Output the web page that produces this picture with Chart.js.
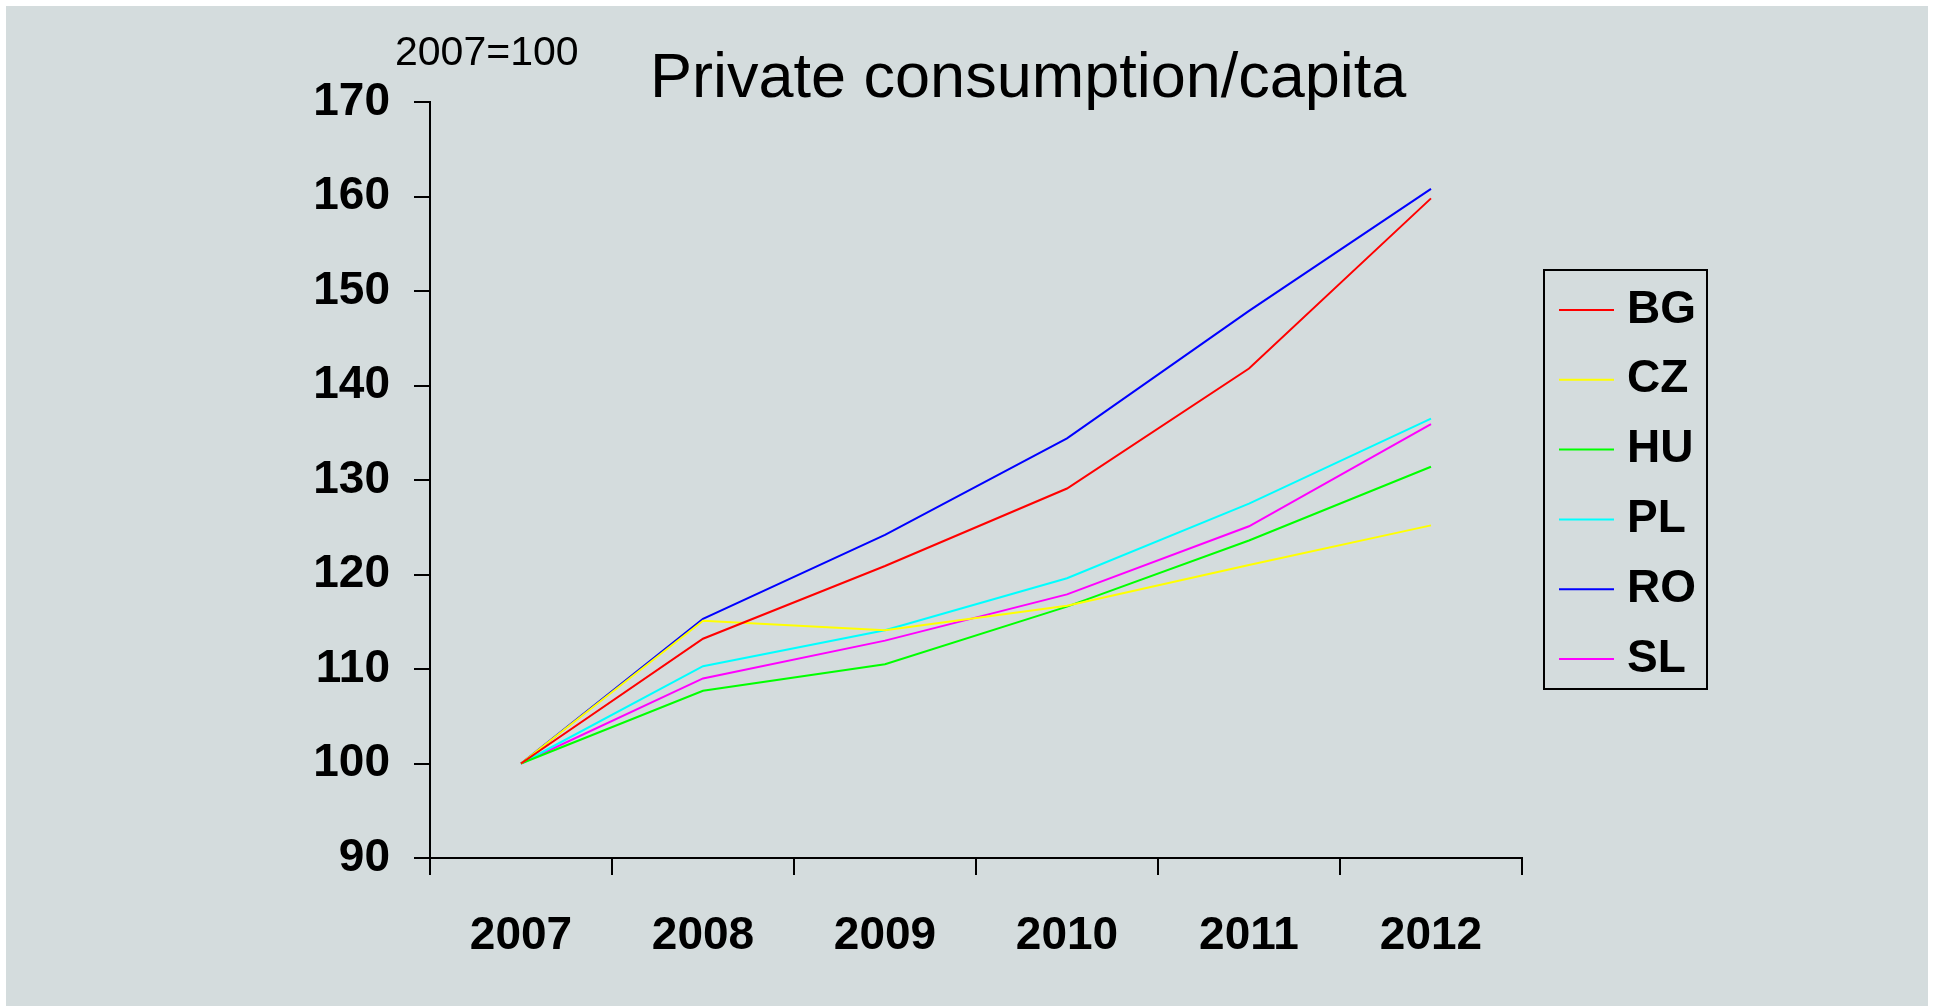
<!DOCTYPE html>
<html>
<head>
<meta charset="utf-8">
<title>Private consumption/capita</title>
<script src="https://cdn.jsdelivr.net/npm/chart.js@4.4.1/dist/chart.umd.min.js"></script>
<style>
  html, body { margin: 0; padding: 0; background: #ffffff; }
  #wrap { position: relative; width: 1935px; height: 1008px; }
  canvas { display: block; }
</style>
</head>
<body>
<div id="wrap"><canvas id="c" width="1935" height="1008"></canvas></div>
<script>
// Private consumption per capita, index 2007 = 100
const years = ['2007', '2008', '2009', '2010', '2011', '2012'];
const countries = ['BG', 'CZ', 'HU', 'PL', 'RO', 'SL'];
const lineColors = ['#ff0000', '#ffff00', '#00ff00', '#00ffff', '#0000ff', '#ff00ff'];

const bg = [100, 113.2, 120.9, 129.1, 141.8, 159.8];
const cz = [100, 115.1, 114.1, 116.7, 121.0, 125.2];
const hu = [100, 107.7, 110.5, 116.6, 123.6, 131.4];
const pl = [100, 110.3, 114.1, 119.6, 127.5, 136.5];
const ro = [100, 115.3, 124.2, 134.4, 147.9, 160.8];
const sl = [100, 109.0, 113.0, 117.9, 125.1, 135.9];

const seriesValues = [bg, cz, hu, pl, ro, sl];
const yTicks = [90, 100, 110, 120, 130, 140, 150, 160, 170];

const titleText = 'Private consumption/capita';
const baseNote = '2007=100';

const FONT = '"Liberation Sans", Arial, Helvetica, sans-serif';

// Panel background, title, base-year note and boxed legend
const decor = {
  id: 'decor',
  beforeDraw(chart) {
    const ctx = chart.ctx;
    ctx.save();
    ctx.fillStyle = '#ffffff';
    ctx.fillRect(0, 0, chart.width, chart.height);
    ctx.fillStyle = '#d4dcdd';
    ctx.fillRect(6, 6, 1922, 1000);
    ctx.restore();
  },
  afterDraw(chart) {
    const ctx = chart.ctx;
    ctx.save();
    ctx.fillStyle = '#000';
    ctx.textBaseline = 'alphabetic';
    ctx.textAlign = 'left';
    ctx.font = '63px ' + FONT;
    ctx.fillText(titleText, 650, 97);
    ctx.font = '41px ' + FONT;
    ctx.fillText(baseNote, 395, 65);

    // legend box
    ctx.strokeStyle = '#000';
    ctx.lineWidth = 2;
    ctx.strokeRect(1544, 270, 163, 419);
    ctx.font = 'bold 46px ' + FONT;
    ctx.textBaseline = 'middle';
    chart.data.datasets.forEach((ds, i) => {
      const y = 310 + i * 69.8;
      ctx.strokeStyle = ds.borderColor;
      ctx.lineWidth = 2;
      ctx.beginPath();
      ctx.moveTo(1559, y);
      ctx.lineTo(1614, y);
      ctx.stroke();
      ctx.fillStyle = '#000';
      ctx.fillText(ds.label, 1627, y);
    });
    ctx.restore();
  }
};

const datasets = countries.map((name, i) => ({
  label: name,
  data: seriesValues[i],
  borderColor: lineColors[i],
  backgroundColor: lineColors[i],
  borderWidth: 2,
  pointRadius: 0,
  tension: 0,
  fill: false
}));

new Chart(document.getElementById('c'), {
  type: 'line',
  data: { labels: years, datasets },
  options: {
    responsive: false,
    animation: false,
    events: [],
    layout: { padding: { left: 0, top: 102, right: 413, bottom: 0 } },
    plugins: {
      legend: { display: false },
      title: { display: false },
      tooltip: { enabled: false }
    },
    scales: {
      x: {
        type: 'category',
        offset: true,
        grid: {
          offset: true,
          drawOnChartArea: false,
          drawTicks: true,
          tickLength: 17,
          color: '#000',
          lineWidth: 2
        },
        border: { display: true, color: '#000', width: 2 },
        ticks: {
          color: '#000',
          padding: 34,
          maxRotation: 0,
          font: { family: FONT, size: 46, weight: 'bold' }
        },
        afterFit(scale) { scale.height = 150; }
      },
      y: {
        min: 90,
        max: 170,
        afterBuildTicks(scale) { scale.ticks = yTicks.map(v => ({ value: v })); },
        grid: {
          drawOnChartArea: false,
          drawTicks: true,
          tickLength: 16,
          color: '#000',
          lineWidth: 2
        },
        border: { display: true, color: '#000', width: 2 },
        ticks: {
          color: '#000',
          padding: 24,
          font: { family: FONT, size: 46, weight: 'bold' }
        },
        afterFit(scale) { scale.width = 430; }
      }
    }
  },
  plugins: [decor]
});
</script>
</body>
</html>
